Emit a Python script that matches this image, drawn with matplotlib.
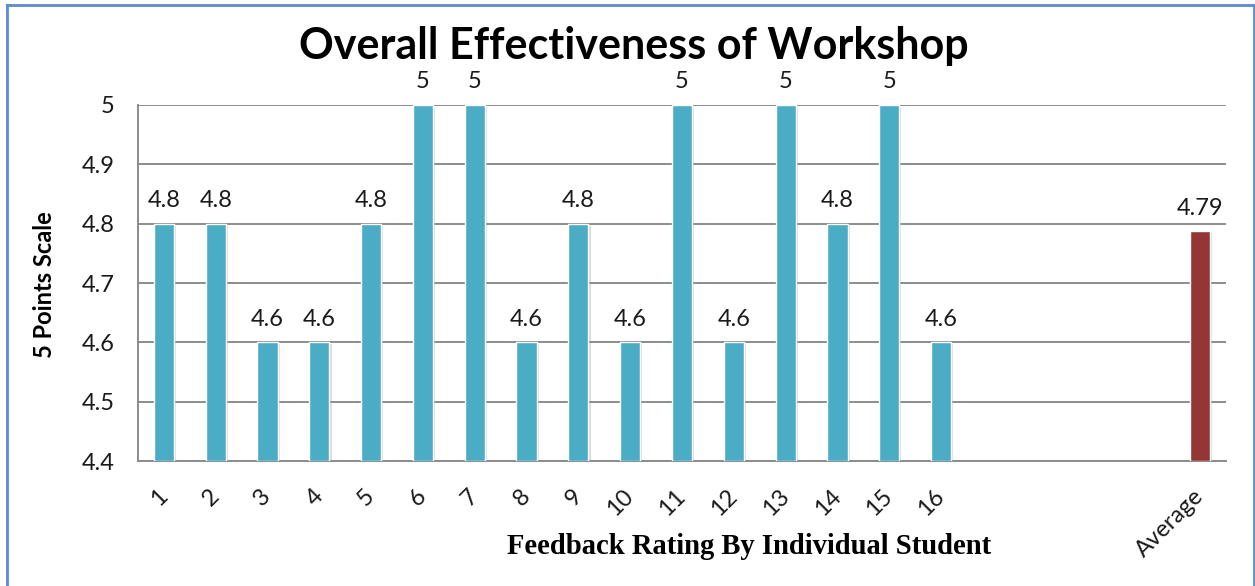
import matplotlib
matplotlib.use("Agg")
import matplotlib.pyplot as plt
import matplotlib.patheffects as pe
from matplotlib.lines import Line2D

categories = [str(i) for i in range(1, 17)] + ["", "", "", "", "Average"]
student_ratings = [4.8, 4.8, 4.6, 4.6, 4.8, 5, 5, 4.6, 4.8, 4.6, 5, 4.6, 5, 4.8, 5, 4.6]
average_rating = 4.7875
average_label = "4.79"
y_ticks = [4.4, 4.5, 4.6, 4.7, 4.8, 4.9, 5.0]
y_tick_labels = ["4.4", "4.5", "4.6", "4.7", "4.8", "4.9", "5"]

title = "Overall Effectiveness of Workshop"
x_title = "Feedback Rating By Individual Student"
y_title = "5 Points Scale"

BLUE = "#4BACC6"
RED = "#943634"
GRID = "#8C8C8C"
SANS = ["Lato", "DejaVu Sans"]

fig = plt.figure(figsize=(12.55, 5.86), dpi=100)
ax = fig.add_axes([138 / 1255, 1 - 461 / 586, (1226 - 138) / 1255, (461 - 105) / 586])

n = len(categories)
xs = list(range(n))
shadow = [pe.SimplePatchShadow(offset=(1.5, -1.5), shadow_rgbFace="#9a9a9a", alpha=0.35), pe.Normal()]

bars = ax.bar(xs[:len(student_ratings)], [v - 4.4 for v in student_ratings], bottom=4.4,
              width=0.39, color=BLUE, edgecolor="white", linewidth=1.0, zorder=3)
avg_bar = ax.bar([xs[-1]], [average_rating - 4.4], bottom=4.4, width=0.39, color=RED,
                 edgecolor="white", linewidth=1.0, zorder=3)
for b in list(bars) + list(avg_bar):
    b.set_path_effects(shadow)

for x, v in zip(xs, student_ratings):
    ax.annotate(f"{v:g}", (x, v), xytext=(0, 9), textcoords="offset points",
                ha="center", va="bottom", fontsize=17, family=SANS, color="#1a1a1a")
ax.annotate(average_label, (xs[-1], average_rating), xytext=(0, 9), textcoords="offset points",
            ha="center", va="bottom", fontsize=17, family=SANS, color="#1a1a1a")

ax.set_xlim(-0.5, n - 0.5)
ax.set_ylim(4.4, 5.0)
ax.set_yticks(y_ticks)
ax.set_yticklabels(y_tick_labels, family=SANS, fontsize=17)
ax.set_xticks(xs)
ax.set_xticklabels(categories, rotation=45, ha="right", va="center", rotation_mode="anchor",
                   family=SANS, fontsize=17)
ax.tick_params(axis="y", length=0, pad=17, colors="#1a1a1a")
ax.tick_params(axis="x", length=0, pad=23, colors="#1a1a1a")

ax.yaxis.grid(True, color=GRID, linewidth=1.4, zorder=0)
ax.set_axisbelow(True)
for s in ["top", "right"]:
    ax.spines[s].set_visible(False)
for s in ["left", "bottom"]:
    ax.spines[s].set_color(GRID)
    ax.spines[s].set_linewidth(1.4)

fig.text(634 / 1255, 1 - 46 / 586, title, ha="center", va="center",
         fontsize=31, fontweight="bold", family=SANS)
fig.text(45 / 1255, 1 - 285 / 586, y_title, ha="center", va="center", rotation=90,
         fontsize=17, fontweight="bold", family=SANS)
fig.text(749 / 1255, 1 - 547 / 586, x_title, ha="center", va="center",
         fontsize=20.6, fontweight="bold", family=["Liberation Serif", "DejaVu Serif"])

# figure border (left, top, right)
bc = "#5B8BD0"
fig.add_artist(Line2D([7 / 1255, 7 / 1255], [0, 1 - 5 / 586], transform=fig.transFigure, color=bc, linewidth=2))
fig.add_artist(Line2D([7 / 1255, 1254 / 1255], [1 - 5 / 586, 1 - 5 / 586], transform=fig.transFigure, color=bc, linewidth=2))
fig.add_artist(Line2D([1254 / 1255, 1254 / 1255], [0, 1 - 5 / 586], transform=fig.transFigure, color=bc, linewidth=2))

fig.savefig("out.png", dpi=100)
